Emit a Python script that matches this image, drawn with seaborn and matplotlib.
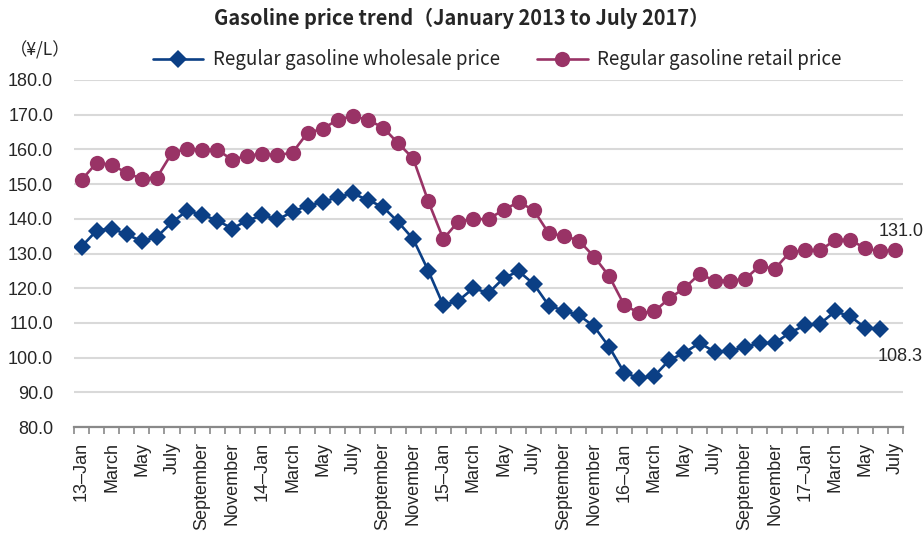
import numpy as np
import pandas as pd
import matplotlib
matplotlib.use("Agg")
import matplotlib.pyplot as plt
import seaborn as sns
from matplotlib.ticker import FixedLocator, NullFormatter

sns.set_theme(style="white")
plt.rcParams['font.family'] = ['Liberation Sans', 'Noto Sans CJK JP', 'DejaVu Sans']

months = []
names = ["Jan", "February", "March", "April", "May", "June", "July", "August",
         "September", "October", "November", "December"]
years = ["13", "14", "15", "16", "17"]
for y in years:
    for i, n in enumerate(names):
        months.append(f"{y}–Jan" if i == 0 else n)
months = months[:55]

wholesale = [132.0, 136.6, 137.2, 135.5, 133.5, 134.8, 139.0, 142.3, 141.2, 139.5, 137.2, 139.5,
             141.0, 139.8, 142.0, 143.8, 144.8, 146.3, 147.3, 145.4, 143.4, 139.1, 134.2, 125.1,
             115.1, 116.4, 120.0, 118.6, 122.9, 124.9, 121.2, 115.0, 113.5, 112.2, 109.0, 103.1,
             95.7, 94.0, 94.7, 99.3, 101.4, 104.2, 101.7, 101.9, 103.0, 104.2, 104.2, 107.2,
             109.3, 109.8, 113.3, 111.9, 108.6, 108.3]
retail = [151.2, 156.1, 155.6, 153.2, 151.5, 151.9, 159.0, 160.2, 159.9, 159.9, 157.0, 158.2,
          158.7, 158.3, 159.1, 164.8, 165.9, 168.6, 169.6, 168.5, 166.3, 161.8, 157.4, 145.1,
          134.2, 139.2, 139.9, 139.9, 142.6, 144.8, 142.5, 135.8, 135.1, 133.7, 129.1, 123.5,
          115.2, 112.8, 113.3, 117.1, 120.0, 124.1, 122.2, 122.2, 122.6, 126.4, 125.6, 130.4,
          130.9, 130.9, 133.9, 133.9, 131.5, 130.6, 131.0]
series_names = ["Regular gasoline wholesale price", "Regular gasoline retail price"]
colors = ["#0B3F85", "#993366"]

df_w = pd.DataFrame({"x": np.arange(len(wholesale)), "y": wholesale})
df_r = pd.DataFrame({"x": np.arange(len(retail)), "y": retail})

fig, ax = plt.subplots(figsize=(9.23, 5.38), dpi=100)
fig.subplots_adjust(left=74/923, right=903/923, top=1-80/538, bottom=1-427/538)

sns.lineplot(data=df_w, x="x", y="y", ax=ax, color=colors[0], marker="D", markersize=9,
             markeredgewidth=0, linewidth=1.9, label=series_names[0], zorder=3)
sns.lineplot(data=df_r, x="x", y="y", ax=ax, color=colors[1], marker="o", markersize=11,
             markeredgewidth=0, linewidth=1.9, label=series_names[1], zorder=3)

ax.set_xlim(-0.5, len(months) - 0.5)
ax.set_ylim(80, 180)
ax.set_yticks(np.arange(80, 181, 10))
ax.set_yticklabels([f"{v:.1f}" for v in np.arange(80, 181, 10)], fontsize=13)
ax.yaxis.grid(True, color="#D9D9D9", linewidth=1.5)
ax.xaxis.grid(False)

major = list(range(0, len(months), 2))
ax.set_xticks(major)
ax.set_xticklabels([months[i] for i in major], rotation=90, fontsize=13)
ax.xaxis.set_minor_locator(FixedLocator(np.arange(-0.5, len(months), 1.0)))
ax.xaxis.set_minor_formatter(NullFormatter())
ax.tick_params(axis="x", which="major", length=0, pad=11)
ax.tick_params(axis="x", which="minor", length=5, width=1.2, color="#898989", direction="out", bottom=True)
ax.tick_params(axis="y", length=0, pad=15)

for s in ["top", "right", "left"]:
    ax.spines[s].set_visible(False)
ax.spines["bottom"].set_color("#898989")
ax.spines["bottom"].set_linewidth(1.6)
ax.set_xlabel("")
ax.set_ylabel("")

ax.annotate(f"{retail[-1]:.1f}", xy=(len(retail) - 1, retail[-1]), xytext=(4, 7),
            textcoords="offset points", ha="center", va="bottom", fontsize=13)
ax.annotate(f"{wholesale[-1]:.1f}", xy=(len(wholesale) - 1, wholesale[-1]), xytext=(14, -14),
            textcoords="offset points", ha="center", va="top", fontsize=13)

ax.get_legend().remove()
handles, labels = ax.get_legend_handles_labels()
fig.legend(handles, labels, loc="center", bbox_to_anchor=(497/923, 1 - 60/538), ncol=2,
           frameon=False, handlelength=2.7, columnspacing=2.0, handletextpad=0.5,
           prop={"family": ["Noto Sans CJK JP", "DejaVu Sans"], "size": 13.5})

fig.text(0.5, 1 - 18/538, "Gasoline price trend（January 2013 to July 2017）", ha="center", va="center",
         fontsize=14.4, fontweight="bold", family=["Noto Sans CJK JP", "DejaVu Sans"])
fig.text(10/923, 1 - 50/538, "（¥/L）", ha="left", va="center", fontsize=12.5,
         family=["Noto Sans CJK JP", "DejaVu Sans"])

fig.savefig("out.png", dpi=100)
